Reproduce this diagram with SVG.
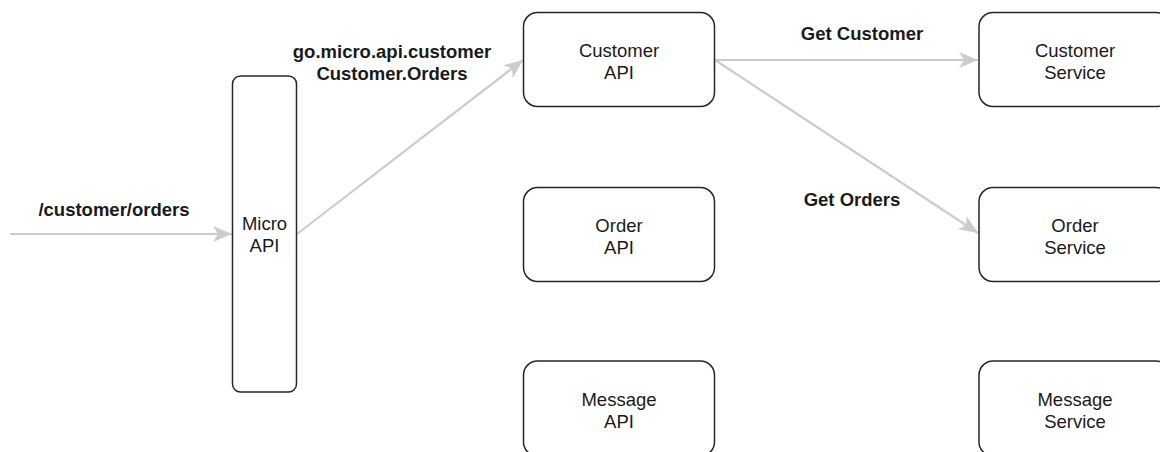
<svg xmlns="http://www.w3.org/2000/svg" width="1160" height="452" viewBox="0 0 1160 452">
  <style>
    .box { fill: #ffffff; stroke: #262626; stroke-width: 1.5; }
    .lbl { font-family: "Liberation Sans", Arial, Helvetica, sans-serif; font-size: 18.5px; fill: #1a1a1a; text-anchor: middle; }
    .elbl { font-family: "Liberation Sans", Arial, Helvetica, sans-serif; font-size: 18.5px; font-weight: bold; fill: #1a1a1a; text-anchor: middle; }
    .edge { fill: none; stroke: #cccccc; stroke-width: 2.2; }
  </style>
  <defs>
    <marker id="arrow" markerUnits="userSpaceOnUse" markerWidth="20" markerHeight="17" refX="19" refY="8" orient="auto">
      <path d="M0,0 L19,8 L0,16 L5,8 Z" fill="#cccccc"/>
    </marker>
  </defs>
  <rect width="1160" height="452" fill="#ffffff"/>

  <g id="connectors">
    <line class="edge" x1="10" y1="234" x2="232" y2="234" marker-end="url(#arrow)"/>
    <line class="edge" x1="297" y1="234" x2="523" y2="60" marker-end="url(#arrow)"/>
    <line class="edge" x1="715" y1="60" x2="978" y2="60" marker-end="url(#arrow)"/>
    <line class="edge" x1="715" y1="60" x2="978" y2="233" marker-end="url(#arrow)"/>
    <text class="elbl" x="114" y="216">/customer/orders</text>
    <text class="elbl" x="392" y="58">go.micro.api.customer</text>
    <text class="elbl" x="392" y="80">Customer.Orders</text>
    <text class="elbl" x="862" y="40">Get Customer</text>
    <text class="elbl" x="852" y="206">Get Orders</text>
  </g>

  <g id="micro-api">
    <rect class="box" x="232.5" y="76" width="64" height="316" rx="8"/>
    <text class="lbl" x="264.5" y="230">Micro</text>
    <text class="lbl" x="264.5" y="252">API</text>
  </g>

  <g id="customer-api">
    <rect class="box" x="523.5" y="12.5" width="191" height="94" rx="14"/>
    <text class="lbl" x="619" y="57">Customer</text>
    <text class="lbl" x="619" y="79">API</text>
  </g>

  <g id="order-api">
    <rect class="box" x="523.5" y="187.5" width="191" height="94" rx="14"/>
    <text class="lbl" x="619" y="232">Order</text>
    <text class="lbl" x="619" y="254">API</text>
  </g>

  <g id="message-api">
    <rect class="box" x="523.5" y="361" width="191" height="95" rx="14"/>
    <text class="lbl" x="619" y="406">Message</text>
    <text class="lbl" x="619" y="428">API</text>
  </g>

  <g id="customer-service">
    <rect class="box" x="979" y="12.5" width="191" height="94" rx="14"/>
    <text class="lbl" x="1075" y="57">Customer</text>
    <text class="lbl" x="1075" y="79">Service</text>
  </g>

  <g id="order-service">
    <rect class="box" x="979" y="187.5" width="191" height="94" rx="14"/>
    <text class="lbl" x="1075" y="232">Order</text>
    <text class="lbl" x="1075" y="254">Service</text>
  </g>

  <g id="message-service">
    <rect class="box" x="979" y="361" width="191" height="95" rx="14"/>
    <text class="lbl" x="1075" y="406">Message</text>
    <text class="lbl" x="1075" y="428">Service</text>
  </g>
</svg>
